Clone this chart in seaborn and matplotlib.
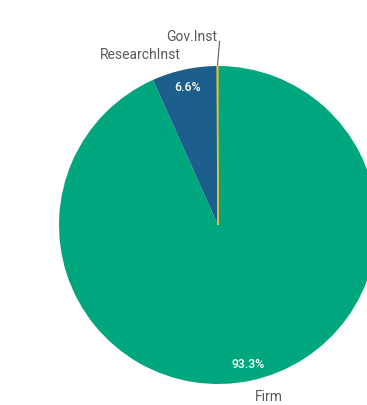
import matplotlib
matplotlib.use("Agg")
import matplotlib.pyplot as plt
import seaborn as sns
import numpy as np

categories = ["Firm", "ResearchInst", "Gov.Inst"]
values = [93.3, 6.6, 0.1]
colors = ["#00A77E", "#1C5E8C", "#E1C22E"]

sns.set_theme(style="white")
plt.rcParams['font.family'] = ['Roboto', 'DejaVu Sans']

W, H = 367, 406
fig = plt.figure(figsize=(W / 100, H / 100), dpi=100)
cx, cy, r = 218, 226, 159
ax = fig.add_axes([(cx - r) / W, (H - cy - r) / H, 2 * r / W, 2 * r / H])


def pct_fmt(p):
    return f"{p:.1f}%" if p >= 1 else ""


wedges, texts, autotexts = ax.pie(
    values, labels=categories, colors=sns.color_palette(colors),
    startangle=90, counterclock=False, autopct=pct_fmt,
    pctdistance=0.89, labeldistance=1.1,
    wedgeprops=dict(linewidth=0, edgecolor="none"),
    textprops=dict(color="#595959", fontsize=10),
)
for t in autotexts:
    t.set_color("white")
    t.set_fontsize(8.8)
    t.set_fontweight("medium")
for t in texts + autotexts:
    t.set_clip_on(False)
for w in wedges:
    w.set_clip_on(False)

# make the tiny Gov.Inst slice visible
gw = wedges[2]
gw.set_edgecolor(colors[2])
gw.set_linewidth(0.9)

# Gov.Inst label lifted with a leader line
ang = np.deg2rad((gw.theta1 + gw.theta2) / 2)
x0 = np.cos(ang)
texts[2].set_position((x0, 1.19))
ax.plot([x0, x0 + 0.013], [1.005, 1.155], color="#595959", lw=0.8, clip_on=False)

ax.set_xlim(-1, 1)
ax.set_ylim(-1, 1)
ax.set_aspect('equal')
ax.axis('off')

fig.savefig("out.png", dpi=100)
